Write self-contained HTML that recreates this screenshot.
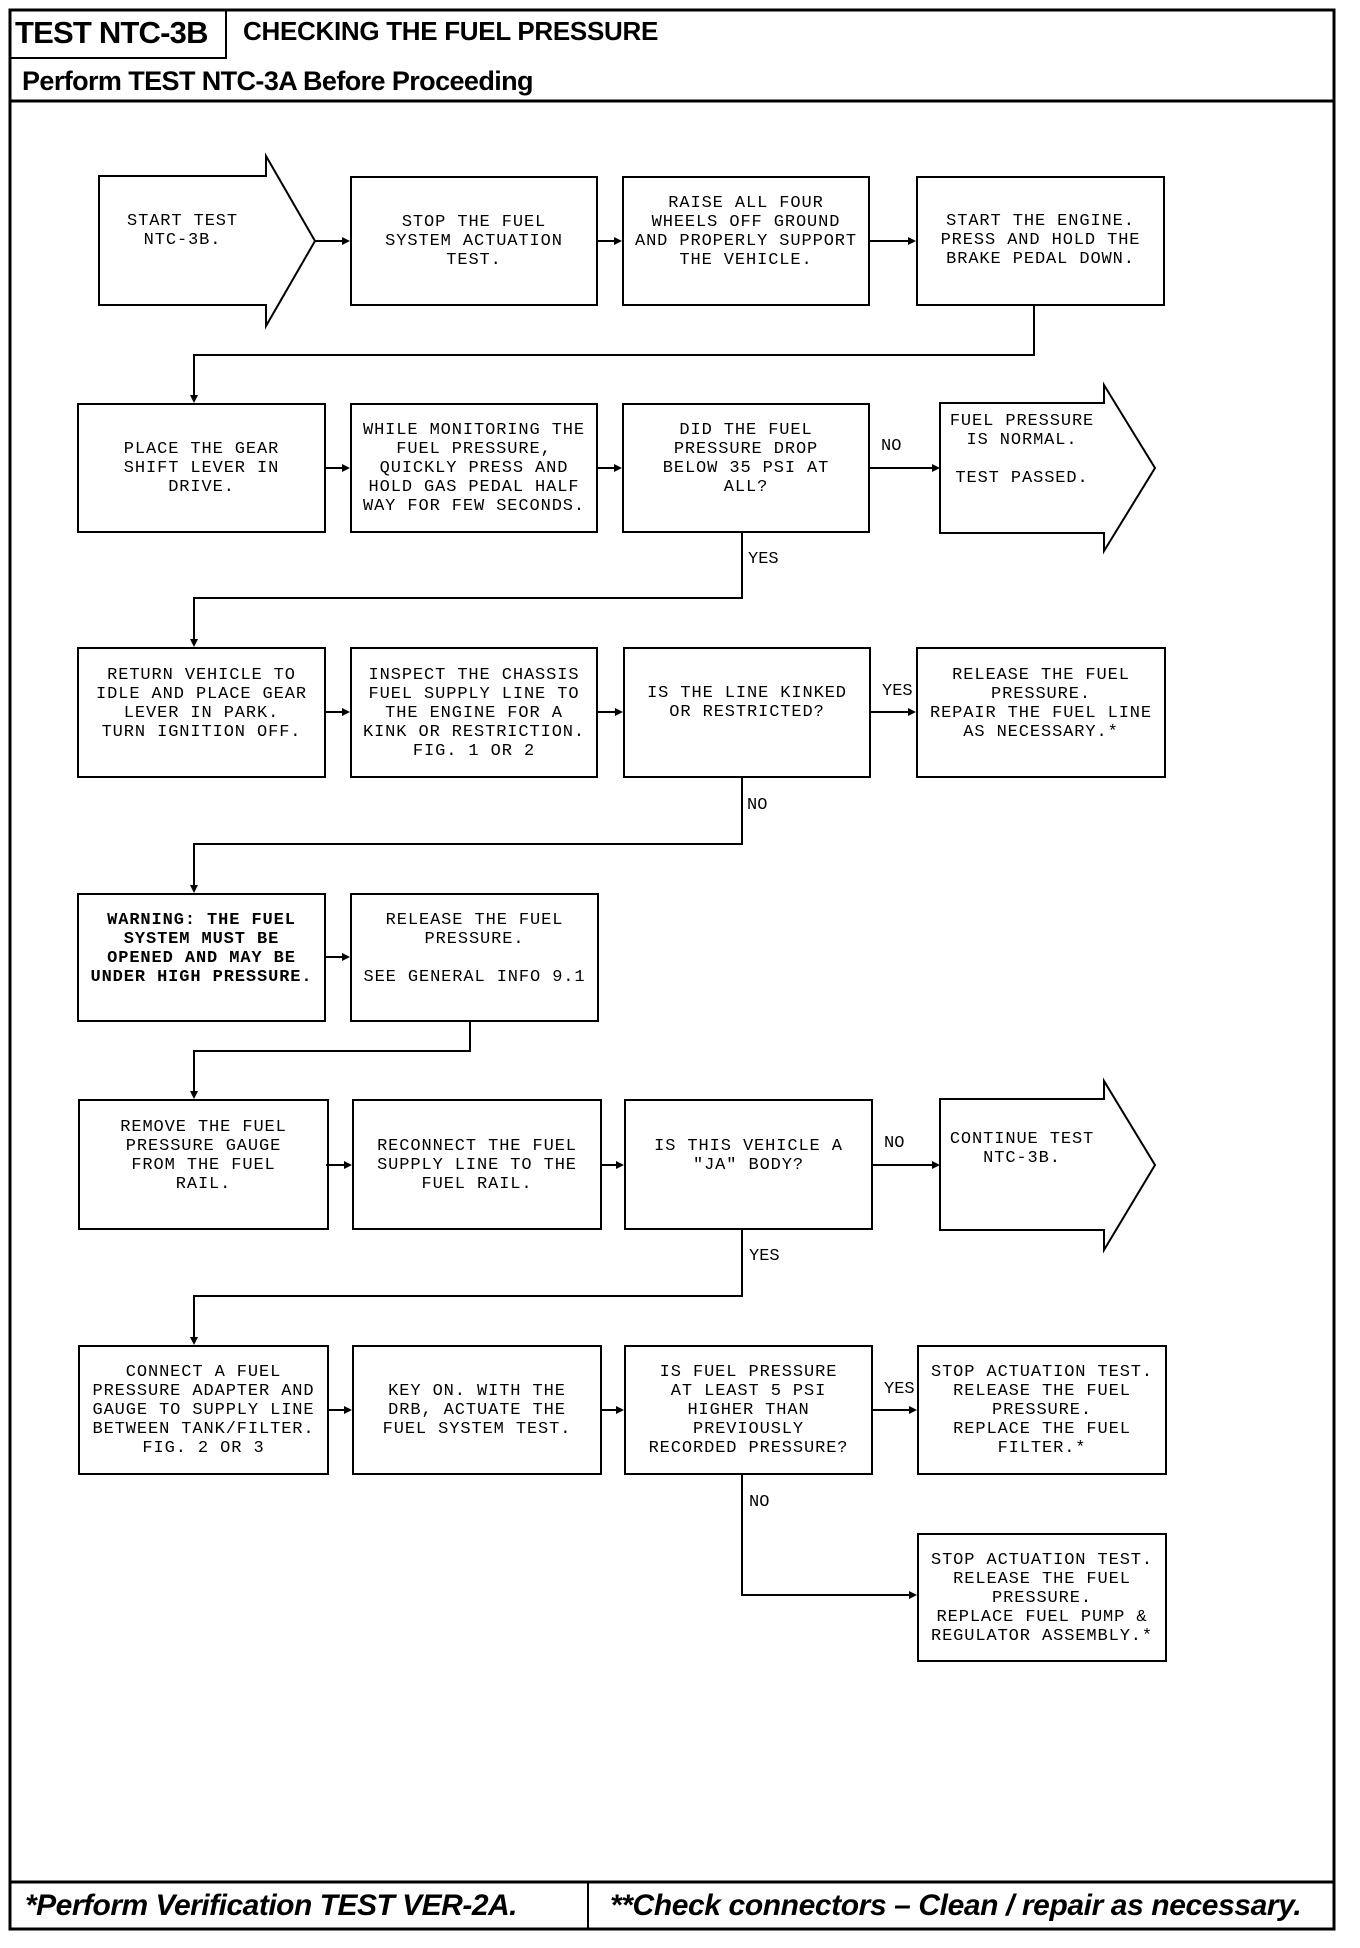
<!DOCTYPE html>
<html><head><meta charset="utf-8"><style>
body{margin:0;background:#fff;}
#p{position:relative;width:1360px;height:1948px;background:#fff;overflow:hidden;}
.b{position:absolute;box-sizing:border-box;border:2px solid #000;display:flex;align-items:center;justify-content:center;text-align:center;font-family:"Liberation Mono",monospace;font-size:17px;line-height:19px;letter-spacing:0.9px;color:#000;white-space:pre;}
.t{position:absolute;font-family:"Liberation Sans",sans-serif;font-weight:bold;color:#000;white-space:nowrap;}
.l{position:absolute;font-family:"Liberation Mono",monospace;font-size:17px;color:#000;}
.nb{border:none;}
</style></head><body><div id="p">
<svg width="1360" height="1948" style="position:absolute;left:0;top:0">
<g fill="none" stroke="#000">
<rect x="10" y="10" width="1324" height="1919" stroke-width="3"/>
<rect x="10" y="10" width="216" height="48" stroke-width="2"/>
<line x1="10" y1="101" x2="1334" y2="101" stroke-width="3"/>
<line x1="10" y1="1882" x2="1334" y2="1882" stroke-width="3"/>
<line x1="588" y1="1882" x2="588" y2="1929" stroke-width="2"/>
<g stroke-width="2">
<polygon points="99,176 266,176 266,156 315,241 266,326 266,305 99,305"/>
<polygon points="940,403 1104,403 1104,385 1155,468 1104,551 1104,533 940,533"/>
<polygon points="940,1099 1104,1099 1104,1081 1155,1165 1104,1250 1104,1230 940,1230"/>
<polyline points="1034,305 1034,355 194,355 194,398"/>
<polyline points="742,533 742,598 194,598 194,642"/>
<polyline points="742,778 742,844 194,844 194,888"/>
<polyline points="470,1022 470,1051 194,1051 194,1094"/>
<polyline points="742,1230 742,1296 194,1296 194,1340"/>
<polyline points="742,1475 742,1595 912,1595"/>
<line x1="315" y1="241" x2="345" y2="241"/>
<line x1="598" y1="241" x2="617" y2="241"/>
<line x1="870" y1="241" x2="911" y2="241"/>
<line x1="326" y1="468" x2="345" y2="468"/>
<line x1="598" y1="468" x2="617" y2="468"/>
<line x1="870" y1="468" x2="935" y2="468"/>
<line x1="326" y1="712" x2="345" y2="712"/>
<line x1="598" y1="712" x2="618" y2="712"/>
<line x1="871" y1="712" x2="911" y2="712"/>
<line x1="326" y1="957" x2="345" y2="957"/>
<line x1="326" y1="1165" x2="347" y2="1165"/>
<line x1="602" y1="1165" x2="619" y2="1165"/>
<line x1="873" y1="1165" x2="935" y2="1165"/>
<line x1="329" y1="1410" x2="347" y2="1410"/>
<line x1="602" y1="1410" x2="619" y2="1410"/>
<line x1="873" y1="1410" x2="912" y2="1410"/>
</g></g>
<g fill="#000">
<polygon points="350,241 342,237 342,245"/>
<polygon points="622,241 614,237 614,245"/>
<polygon points="916,241 908,237 908,245"/>
<polygon points="194,403 190,395 198,395"/>
<polygon points="350,468 342,464 342,472"/>
<polygon points="622,468 614,464 614,472"/>
<polygon points="940,468 932,464 932,472"/>
<polygon points="194,647 190,639 198,639"/>
<polygon points="350,712 342,708 342,716"/>
<polygon points="623,712 615,708 615,716"/>
<polygon points="916,712 908,708 908,716"/>
<polygon points="194,893 190,885 198,885"/>
<polygon points="350,957 342,953 342,961"/>
<polygon points="194,1099 190,1091 198,1091"/>
<polygon points="352,1165 344,1161 344,1169"/>
<polygon points="624,1165 616,1161 616,1169"/>
<polygon points="940,1165 932,1161 932,1169"/>
<polygon points="194,1345 190,1337 198,1337"/>
<polygon points="352,1410 344,1406 344,1414"/>
<polygon points="624,1410 616,1406 616,1414"/>
<polygon points="917,1410 909,1406 909,1414"/>
<polygon points="917,1595 909,1591 909,1599"/>
</g>
</svg>
<div class="t" style="left:15px;top:15px;font-size:31px;letter-spacing:-0.8px">TEST NTC-3B</div>
<div class="t" style="left:243px;top:16px;font-size:26px;letter-spacing:-0.3px">CHECKING THE FUEL PRESSURE</div>
<div class="t" style="left:22px;top:66px;font-size:27px;letter-spacing:-0.6px">Perform TEST NTC-3A Before Proceeding</div>
<div class="t" style="left:25px;top:1889px;font-size:30px;font-style:italic;letter-spacing:-0.5px">*Perform Verification TEST VER-2A.</div>
<div class="t" style="left:610px;top:1889px;font-size:30px;font-style:italic;letter-spacing:-0.4px">**Check connectors – Clean / repair as necessary.</div>

<div class="b nb" style="left:99px;top:176px;width:167px;height:110px">START TEST
NTC-3B.</div>
<div class="b" style="left:350px;top:176px;width:248px;height:130px">STOP THE FUEL
SYSTEM ACTUATION
TEST.</div>
<div class="b" style="left:622px;top:176px;width:248px;height:130px;align-items:flex-start;padding-top:16px">RAISE ALL FOUR
WHEELS OFF GROUND
AND PROPERLY SUPPORT
THE VEHICLE.</div>
<div class="b" style="left:916px;top:176px;width:249px;height:130px;align-items:flex-start;padding-top:34px">START THE ENGINE.
PRESS AND HOLD THE
BRAKE PEDAL DOWN.</div>

<div class="b" style="left:77px;top:403px;width:249px;height:130px">PLACE THE GEAR
SHIFT LEVER IN
DRIVE.</div>
<div class="b" style="left:350px;top:403px;width:248px;height:130px">WHILE MONITORING THE
FUEL PRESSURE,
QUICKLY PRESS AND
HOLD GAS PEDAL HALF
WAY FOR FEW SECONDS.</div>
<div class="b" style="left:622px;top:403px;width:248px;height:130px;align-items:flex-start;padding-top:16px">DID THE FUEL
PRESSURE DROP
BELOW 35 PSI AT
ALL?</div>
<div class="b nb" style="left:940px;top:412px;width:164px;height:90px;align-items:flex-start">FUEL PRESSURE
IS NORMAL.

TEST PASSED.</div>

<div class="b" style="left:77px;top:647px;width:249px;height:131px;align-items:flex-start;padding-top:17px">RETURN VEHICLE TO
IDLE AND PLACE GEAR
LEVER IN PARK.
TURN IGNITION OFF.</div>
<div class="b" style="left:350px;top:647px;width:248px;height:131px;align-items:flex-start;padding-top:17px">INSPECT THE CHASSIS
FUEL SUPPLY LINE TO
THE ENGINE FOR A
KINK OR RESTRICTION.
FIG. 1 OR 2</div>
<div class="b" style="left:623px;top:647px;width:248px;height:131px;align-items:flex-start;padding-top:35px">IS THE LINE KINKED
OR RESTRICTED?</div>
<div class="b" style="left:916px;top:647px;width:250px;height:131px;align-items:flex-start;padding-top:17px">RELEASE THE FUEL
PRESSURE.
REPAIR THE FUEL LINE
AS NECESSARY.*</div>

<div class="b" style="left:77px;top:893px;width:249px;height:129px;align-items:flex-start;padding-top:16px;font-weight:bold">WARNING: THE FUEL
SYSTEM MUST BE
OPENED AND MAY BE
UNDER HIGH PRESSURE.</div>
<div class="b" style="left:350px;top:893px;width:249px;height:129px;align-items:flex-start;padding-top:16px">RELEASE THE FUEL
PRESSURE.

SEE GENERAL INFO 9.1</div>

<div class="b" style="left:78px;top:1099px;width:251px;height:131px;align-items:flex-start;padding-top:17px">REMOVE THE FUEL
PRESSURE GAUGE
FROM THE FUEL
RAIL.</div>
<div class="b" style="left:352px;top:1099px;width:250px;height:131px;align-items:flex-start;padding-top:36px">RECONNECT THE FUEL
SUPPLY LINE TO THE
FUEL RAIL.</div>
<div class="b" style="left:624px;top:1099px;width:249px;height:131px;align-items:flex-start;padding-top:36px">IS THIS VEHICLE A
"JA" BODY?</div>
<div class="b nb" style="left:940px;top:1130px;width:164px;height:60px;align-items:flex-start">CONTINUE TEST
NTC-3B.</div>

<div class="b" style="left:78px;top:1345px;width:251px;height:130px;align-items:flex-start;padding-top:16px">CONNECT A FUEL
PRESSURE ADAPTER AND
GAUGE TO SUPPLY LINE
BETWEEN TANK/FILTER.
FIG. 2 OR 3</div>
<div class="b" style="left:352px;top:1345px;width:250px;height:130px;align-items:flex-start;padding-top:35px">KEY ON. WITH THE
DRB, ACTUATE THE
FUEL SYSTEM TEST.</div>
<div class="b" style="left:624px;top:1345px;width:249px;height:130px;align-items:flex-start;padding-top:16px">IS FUEL PRESSURE
AT LEAST 5 PSI
HIGHER THAN
PREVIOUSLY
RECORDED PRESSURE?</div>
<div class="b" style="left:917px;top:1345px;width:250px;height:130px;align-items:flex-start;padding-top:16px">STOP ACTUATION TEST.
RELEASE THE FUEL
PRESSURE.
REPLACE THE FUEL
FILTER.*</div>
<div class="b" style="left:917px;top:1533px;width:250px;height:129px;align-items:flex-start;padding-top:16px">STOP ACTUATION TEST.
RELEASE THE FUEL
PRESSURE.
REPLACE FUEL PUMP &amp;
REGULATOR ASSEMBLY.*</div>

<div class="l" style="left:881px;top:437px">NO</div>
<div class="l" style="left:748px;top:550px">YES</div>
<div class="l" style="left:882px;top:682px">YES</div>
<div class="l" style="left:747px;top:796px">NO</div>
<div class="l" style="left:884px;top:1134px">NO</div>
<div class="l" style="left:749px;top:1247px">YES</div>
<div class="l" style="left:884px;top:1380px">YES</div>
<div class="l" style="left:749px;top:1493px">NO</div>
</div></body></html>
